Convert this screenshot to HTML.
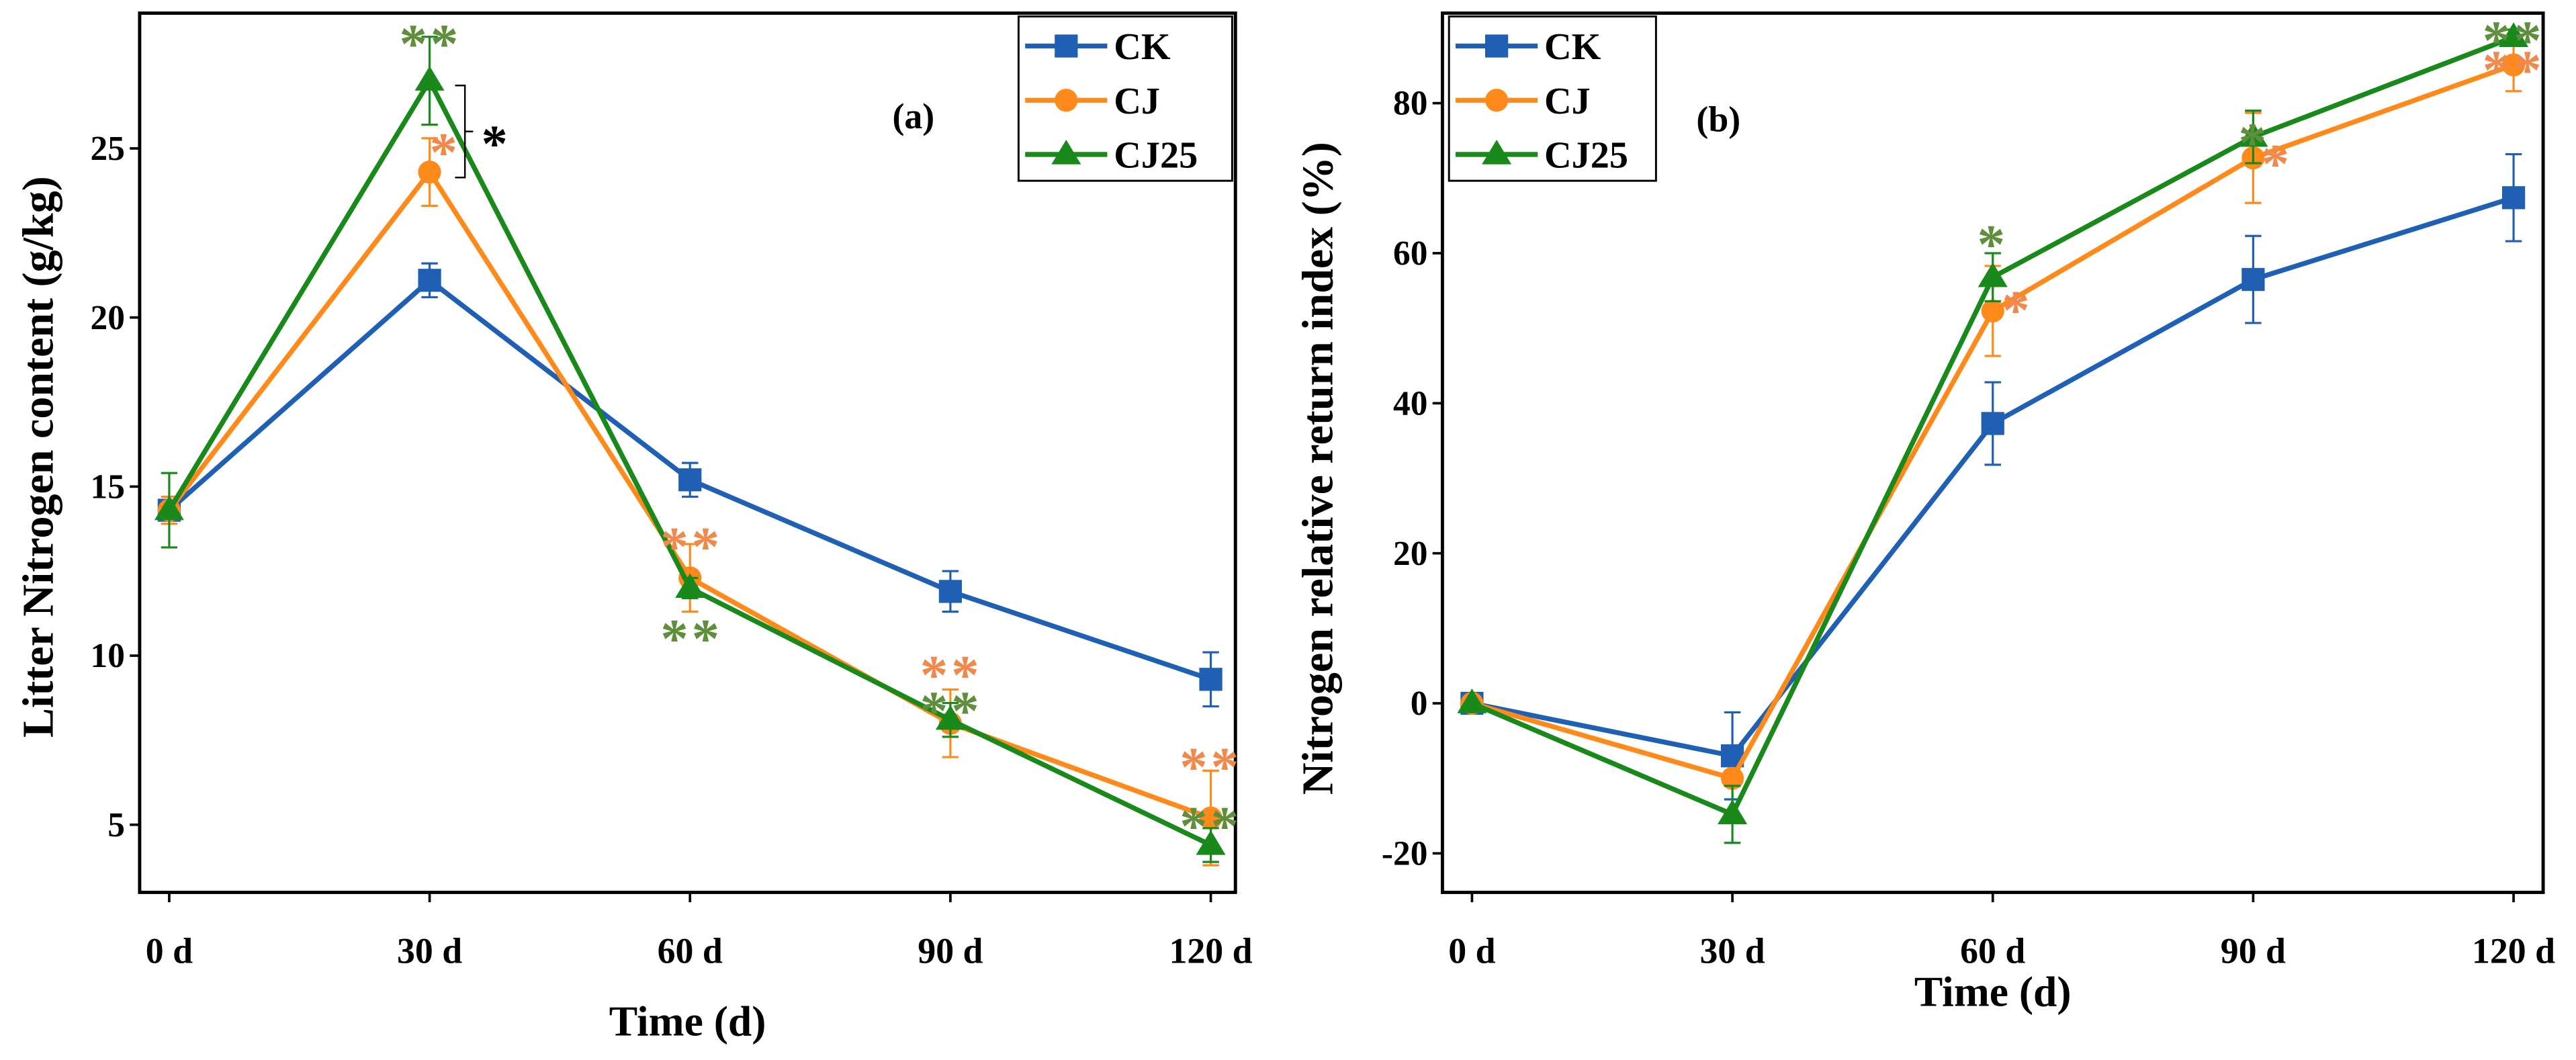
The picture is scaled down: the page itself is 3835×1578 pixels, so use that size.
<!DOCTYPE html>
<html><head><meta charset="utf-8"><style>
html,body{margin:0;padding:0;background:#fff;}
svg{display:block;}
text{font-family:"Liberation Serif",serif;font-weight:bold;}
</style></head><body>
<svg id="fig" width="3835" height="1578" viewBox="0 0 1568 645" preserveAspectRatio="none" xmlns="http://www.w3.org/2000/svg"></svg>
<script>
const categories = ["0 d","30 d","60 d","90 d","120 d"];
const seriesNames = ["CK","CJ","CJ25"];
const colors = ["#1f5fb4","#ff8a1c","#18891a"];
// Panel (a) Litter Nitrogen content
const aCK = [14.3,21.1,15.2,11.9,9.3];
const aCJ = [14.3,24.3,12.3,8.0,5.2];
const aCJ25 = [14.3,27.0,12.0,8.1,4.4];
const aErrCK = [0.3,0.5,0.5,0.6,0.8];
const aErrCJ = [0.4,1.0,1.0,1.0,1.4];
const aErrCJ25 = [1.1,1.3,0.3,0.5,0.5];
const aTicks = [5,10,15,20,25];
// Panel (b) Nitrogen relative return index
const bCK = [0,-7,37.3,56.5,67.4];
const bCJ = [0,-10,52.3,72.7,85.1];
const bCJ25 = [0,-14.8,56.8,75.5,88.8];
const bErrCK = [0,5.8,5.5,5.8,5.8];
const bErrCJ = [0,1,6,6,3.5];
const bErrCJ25 = [0,3.8,3.2,3.5,1];
const bTicks = [-20,0,20,40,60,80];

const NS="http://www.w3.org/2000/svg";
const svg=document.getElementById('fig');
function mk(tag,attrs,parent){const e=document.createElementNS(NS,tag);for(const k in attrs)e.setAttribute(k,attrs[k]);(parent||svg).appendChild(e);return e;}

function panel(p){
  const g=mk('g',{});
  
  
  const xs=i=>p.x0+(p.x1-p.x0)*i/(categories.length-1);
  const ys=v=>p.bottom-(v-p.ymin)/(p.ymax-p.ymin)*(p.bottom-p.top);
  const fr=mk('rect',{x:p.left,y:p.top,width:p.right-p.left,height:p.bottom-p.top,fill:'none',stroke:'#000','stroke-width':2},g);
  
  
  categories.forEach((c,i)=>{
    mk('line',{x1:xs(i),x2:xs(i),y1:p.bottom,y2:p.bottom+6,stroke:'#000','stroke-width':1.5},g);
    const t=mk('text',{x:xs(i),y:p.bottom+43,'font-size':22,'text-anchor':'middle'},g);
    t.textContent=c;
    
    
  });
  p.ticks.forEach(v=>{
    mk('line',{x1:p.left-6,x2:p.left,y1:ys(v),y2:ys(v),stroke:'#000','stroke-width':1.5},g);
    const t=mk('text',{x:p.left-9,y:ys(v)+7,'font-size':21,'text-anchor':'end'},g);
    t.textContent=v;
    
    
  });
  const xt=mk('text',{x:(p.left+p.right)/2,y:p.xty,'font-size':26,'text-anchor':'middle'},g);
  xt.textContent='Time (d)';
  
  
  const yt=mk('text',{x:0,y:0,'font-size':27,'text-anchor':'middle',transform:`translate(${p.ytx},${p.yty}) rotate(-90)`,'xml:space':'preserve'},g);
  yt.textContent=p.ytitle;
  
  
  p.series.forEach((s,k)=>{
    const col=colors[k];
    const sg=mk('g',{},g);
    
    
    s.vals.forEach((v,i)=>{
      const e=s.err[i];if(!e)return;
      const x=xs(i),y1=ys(v-e),y2=ys(v+e);
      mk('line',{x1:x,x2:x,y1:y1,y2:y2,stroke:col,'stroke-width':1.3},sg);
      mk('line',{x1:x-5,x2:x+5,y1:y1,y2:y1,stroke:col,'stroke-width':1.3},sg);
      mk('line',{x1:x-5,x2:x+5,y1:y2,y2:y2,stroke:col,'stroke-width':1.3},sg);
    });
    const ln=mk('polyline',{points:s.vals.map((v,i)=>xs(i)+','+ys(v)).join(' '),fill:'none',stroke:col,'stroke-width':3},sg);
    
    
    s.vals.forEach((v,i)=>{
      const m=marker(k,xs(i),ys(v),sg);
      
      
    });
  });
  const lg=mk('g',{},g);
  
  
  mk('rect',{x:p.lx,y:p.ly,width:p.lw,height:100,fill:'#fff',stroke:'#000','stroke-width':1.2},lg);
  seriesNames.forEach((n,k)=>{
    const y=p.ly+18+k*33;
    const le=mk('g',{},lg);
    
    
    mk('line',{x1:p.lx+4,x2:p.lx+54,y1:y,y2:y,stroke:colors[k],'stroke-width':3},le);
    marker(k,p.lx+29,y,le);
    const t=mk('text',{x:p.lx+58,y:y+8,'font-size':23},le);
    t.textContent=n;
  });
  const pl=mk('text',{x:p.labx,y:p.laby,'font-size':22,'text-anchor':'middle'},g);
  pl.textContent=p.label;
  
  
  return g;
}
function marker(k,x,y,parent){
  const c=colors[k];
  if(k===0) return mk('rect',{x:x-7,y:y-7,width:14,height:14,fill:c},parent);
  if(k===1) return mk('circle',{cx:x,cy:y,r:7,fill:c},parent);
  return mk('polygon',{points:`${x},${y-9} ${x-9},${y+6} ${x+9},${y+6}`,fill:c},parent);
}
panel({name:'panel-a',left:85,right:752,top:8,bottom:543,x0:103,x1:737,ymin:3,ymax:29,ticks:aTicks,
  ytitle:'Litter Nitrogen content (g/kg)',ytx:32,yty:278,xty:630,
  series:[{vals:aCK,err:aErrCK},{vals:aCJ,err:aErrCJ},{vals:aCJ25,err:aErrCJ25}],
  lx:620,ly:10,lw:130,label:'(a)',labx:556,laby:78});
panel({name:'panel-b',left:878,right:1548,top:8,bottom:543,x0:896,x1:1530,ymin:-25.2,ymax:92,ticks:bTicks,
  ytitle:'Nitrogen  relative return index (%)',ytx:811,yty:285,xty:612,
  series:[{vals:bCK,err:bErrCK},{vals:bCJ,err:bErrCJ},{vals:bCJ25,err:bErrCJ25}],
  lx:882,ly:10,lw:126,label:'(b)',labx:1046,laby:80});
const OR="#f0894b",GR="#5f8e3c";
const stars=[
 [262,24,'**',GR],[271,90,'*',OR],[421,330,'**',OR],[421,386,'**',GR],
 [579,408,'**',OR],[579,430,'**',GR],[737,464,'**',OR],[737,500,'**',GR],
 [1213,146,'*',GR],[1228,186,'*',OR],[1372,84,'*',GR],[1386,97,'*',OR],
 [1530,22,'**',GR],[1530,40,'**',OR]];
stars.forEach(s=>{
  const t=mk('text',{x:s[0],y:s[1]+14,'font-size':34,'font-weight':'normal','text-anchor':'middle',fill:s[3],'font-family':'"DejaVu Sans",sans-serif','letter-spacing':2});
  t.textContent=s[2];
  
  
});
const br=mk('path',{d:'M277,52 L283,52 L283,108 L277,108 M283,80 L288,80',fill:'none',stroke:'#000','stroke-width':1});


const bs=mk('text',{x:301,y:98,'font-size':32,'text-anchor':'middle','font-family':'"DejaVu Sans",sans-serif'});
bs.textContent='*';


</script>
</body></html>
